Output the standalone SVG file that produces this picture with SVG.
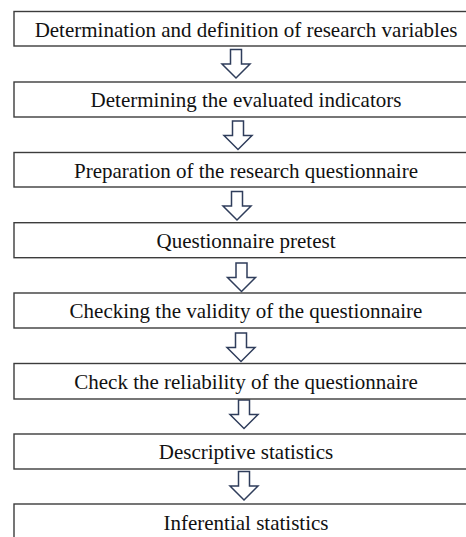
<svg xmlns="http://www.w3.org/2000/svg" width="466" height="537" viewBox="0 0 466 537">
<style>
.box{fill:#ffffff;stroke:#3c3c3c;stroke-width:1.4}
.lbl{font-family:"Liberation Serif","Times New Roman",serif;font-size:21px;fill:#111111;text-anchor:middle}
.arr{fill:#ffffff;stroke:#2f3d5b;stroke-width:1.5;stroke-linejoin:miter}
</style>
<defs>
<path id="arrow" d="M-5.5,0 L5.5,0 L5.5,14.5 L14,14.5 L0,28.5 L-14,14.5 L-5.5,14.5 Z"/>
</defs>
<rect width="466" height="537" fill="#ffffff"/>
<g id="connectors">
<use href="#arrow" class="arr" transform="translate(236,49.5)"/>
<use href="#arrow" class="arr" transform="translate(238,121)"/>
<use href="#arrow" class="arr" transform="translate(237,191.5)"/>
<use href="#arrow" class="arr" transform="translate(241.5,263)"/>
<use href="#arrow" class="arr" transform="translate(241,333)"/>
<use href="#arrow" class="arr" transform="translate(244,400)"/>
<use href="#arrow" class="arr" transform="translate(244,471.5)"/>
</g>
<g id="n1"><rect class="box" x="14" y="11.5" width="464" height="34.5"/><text class="lbl" x="246" y="36.5">Determination and definition of research variables</text></g>
<g id="n2"><rect class="box" x="14" y="82" width="464" height="35"/><text class="lbl" x="246" y="107">Determining the evaluated indicators</text></g>
<g id="n3"><rect class="box" x="14" y="152.5" width="464" height="34.5"/><text class="lbl" x="246" y="177.5">Preparation of the research questionnaire</text></g>
<g id="n4"><rect class="box" x="14" y="222.7" width="464" height="35"/><text class="lbl" x="246" y="247.5">Questionnaire pretest</text></g>
<g id="n5"><rect class="box" x="14" y="293" width="464" height="35"/><text class="lbl" x="246" y="318">Checking the validity of the questionnaire</text></g>
<g id="n6"><rect class="box" x="14" y="363.5" width="464" height="35.5"/><text class="lbl" x="246" y="388.5">Check the reliability of the questionnaire</text></g>
<g id="n7"><rect class="box" x="14" y="434" width="464" height="35"/><text class="lbl" x="246" y="459">Descriptive statistics</text></g>
<g id="n8"><rect class="box" x="14" y="504" width="464" height="40"/><text class="lbl" x="246" y="529.5">Inferential statistics</text></g>
</svg>
